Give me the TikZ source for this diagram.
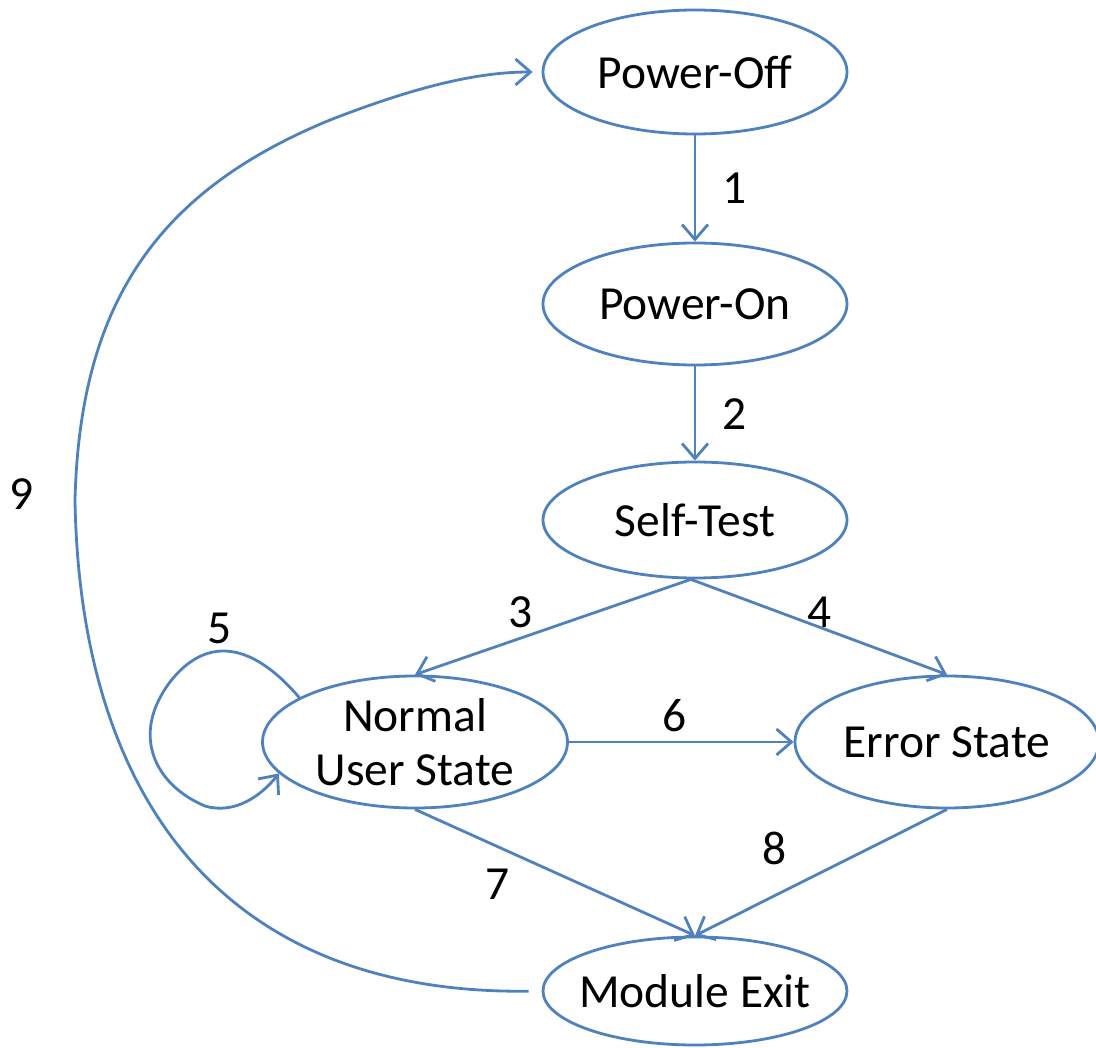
\documentclass[tikz,border=0pt]{standalone}
\usepackage{fontspec}
\setmainfont{Carlito}
\usetikzlibrary{shapes.geometric,arrows.meta}
\definecolor{edgeblue}{HTML}{4F81BD}
\begin{document}
\begin{tikzpicture}[x=1pt,y=-1pt,
  font=\fontsize{47.5}{54}\selectfont,
  state/.style={ellipse, draw=edgeblue, line width=2.8pt,
    inner xsep=-12pt, inner ysep=-15pt,
    minimum width=304pt, align=center, text=black},
  arr/.style={draw=edgeblue, line width=2.8pt,
    -{Straight Barb[length=15pt,width=26pt,line width=2.8pt]}},
  lbl/.style={text=black, inner sep=0pt}]
\useasboundingbox (0,0) rectangle (1096,1048);

% states
\node[state, minimum height=124pt] (po) at (695,72)  {Power-Off};
\node[state, minimum height=122pt] (pn) at (695,304) {Power-On};
\node[state, minimum height=116pt] (st) at (695,520) {Self-Test};
\node[state, minimum height=132pt, minimum width=305pt] (nu) at (415,742) {Normal\\User State};
\node[state, minimum height=132pt] (er) at (947,742) {Error State};
\node[state, minimum height=108pt] (me) at (695,991) {Module Exit};

% intermediate points of the long return path
\coordinate (c9a) at (75,500);
\coordinate (c9b) at (330,120);

% transitions
\draw[arr] (po.south) -- (pn.north);
\draw[arr] (pn.south) -- (st.north);
\draw[arr] (st.266) -- (nu.north);
\draw[arr] (st.266) -- (er.north);
\draw[arr] (nu.east) -- (er.west);
\draw[arr] (nu.south) -- (me.north);
\draw[arr] (er.south) -- (me.north);
\draw[arr] (nu.159) .. controls (250,640) and (205,637) .. (170,682)
  .. controls (130,735) and (155,785) .. (205,806)
  .. controls (235,815) and (262,795) .. (nu.193);
\draw[arr, shorten <=13pt, shorten >=9pt] (me.west) .. controls (225,995) and (80,800) .. (c9a)
  .. controls (80,300) and (160,190) .. (c9b)
  .. controls (420,85) and (480,72) .. (po.west);

% transition numbers
\node[lbl] (l1) at (735,188) {1};
\node[lbl] (l2) at (735,414) {2};
\node[lbl] (l3) at (521,612) {3};
\node[lbl] (l4) at (820,612) {4};
\node[lbl] (l5) at (220,628) {5};
\node[lbl] (l6) at (675,716) {6};
\node[lbl] (l7) at (498,884) {7};
\node[lbl] (l8) at (775,848) {8};
\node[lbl] (l9) at (22,494) {9};
\end{tikzpicture}
\end{document}
